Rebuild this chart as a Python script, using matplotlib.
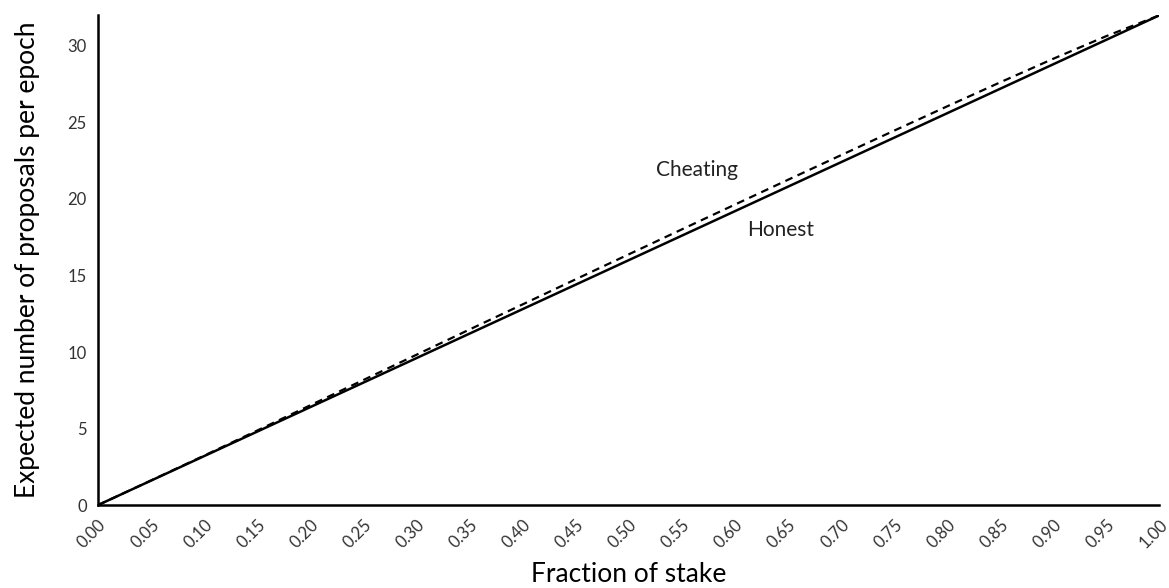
import numpy as np
import matplotlib.pyplot as plt

# datos
stake = [0.00, 0.05, 0.10, 0.15, 0.20, 0.25, 0.30, 0.35, 0.40, 0.45, 0.50,
         0.55, 0.60, 0.65, 0.70, 0.75, 0.80, 0.85, 0.90, 0.95, 1.00]
honest = [0.0, 1.6, 3.2, 4.8, 6.4, 8.0, 9.6, 11.2, 12.8, 14.4, 16.0,
          17.6, 19.2, 20.8, 22.4, 24.0, 25.6, 27.2, 28.8, 30.4, 32.0]
cheating = [0.00, 1.61, 3.23, 4.87, 6.52, 8.17, 9.82, 11.47, 13.11, 14.75, 16.38,
            18.01, 19.63, 21.25, 22.86, 24.46, 26.05, 27.62, 29.16, 30.64, 32.00]
xticks = [0.00, 0.05, 0.10, 0.15, 0.20, 0.25, 0.30, 0.35, 0.40, 0.45, 0.50,
          0.55, 0.60, 0.65, 0.70, 0.75, 0.80, 0.85, 0.90, 0.95, 1.00]
yticks = [0, 5, 10, 15, 20, 25, 30]

plt.rcParams['font.family'] = ['Lato', 'DejaVu Sans']

fig = plt.figure(figsize=(11.69, 5.88), dpi=100)
ax = fig.add_axes([0.0838, 0.141, 0.908, 0.833])

ax.plot(stake, honest, color='black', lw=1.8)
ax.plot(stake, cheating, color='black', lw=1.6, ls=(0, (3.5, 2.5)))

ax.text(0.526, 21.9, 'Cheating', fontsize=15, va='center', ha='left', color='#222222')
ax.text(0.612, 18.0, 'Honest', fontsize=15, va='center', ha='left', color='#222222')

ax.set_xlim(0, 1)
ax.set_ylim(0, 32)
ax.set_xticks(xticks)
ax.set_xticklabels([f'{v:.2f}' for v in xticks], rotation=45, ha='right',
                   rotation_mode='anchor', fontsize=12, color='#333333')
ax.set_yticks(yticks)
ax.set_yticklabels([str(v) for v in yticks], fontsize=12, color='#333333')
ax.tick_params(axis='both', length=0, pad=8)

for s in ['top', 'right']:
    ax.spines[s].set_visible(False)
for s in ['left', 'bottom']:
    ax.spines[s].set_linewidth(1.8)

ax.set_xlabel('Fraction of stake', fontsize=19, labelpad=8)
ax.set_ylabel('Expected number of proposals per epoch', fontsize=19, labelpad=20)

fig.savefig('out.png', dpi=100)
